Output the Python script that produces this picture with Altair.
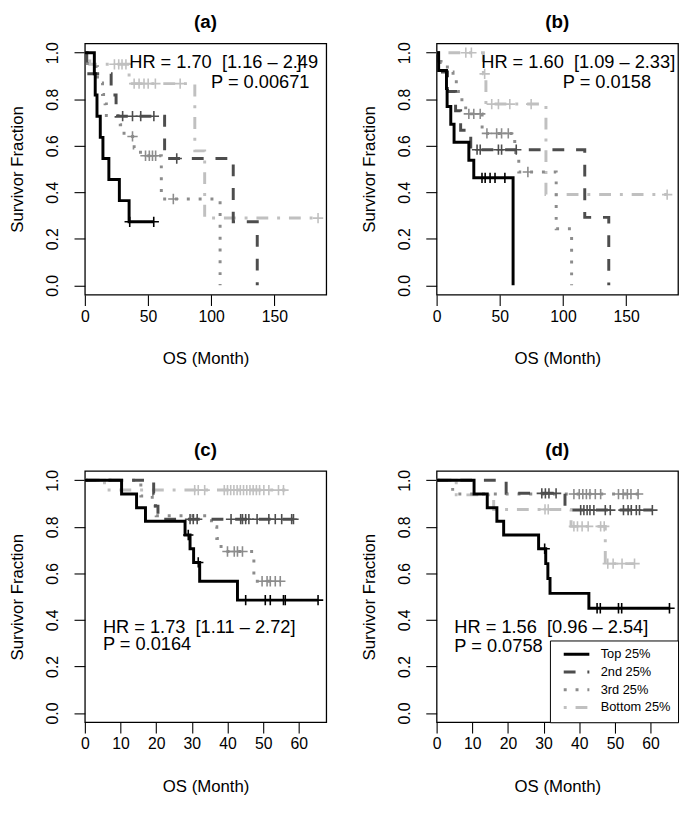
import altair as alt
import pandas as pd

FONT = "Liberation Sans"
GROUPS = ["Top 25%", "2nd 25%", "3rd 25%", "Bottom 25%"]
COLORS = ["#000000", "#4d4d4d", "#8c8c8c", "#c0c0c0"]
DASHES = [[1, 0], [12, 12], [3, 9], [3, 9, 12, 9]]
Y_TICKS = [0.0, 0.2, 0.4, 0.6, 0.8, 1.0]

# ---------------- panel (a) ----------------
A_TOP_T = [0, 7.5, 8.2, 9.6, 12.2, 14.3, 19, 27.3, 35, 54.5]
A_TOP_S = [1, 0.909, 0.818, 0.727, 0.636, 0.545, 0.455, 0.364, 0.273, 0.273]
A_TOP_C = [35.5, 54.5]
A_2ND_T = [0, 1.5, 20.8, 24.7, 63.1, 117.4, 136.4]
A_2ND_S = [1, 0.909, 0.818, 0.727, 0.545, 0.273, 0]
A_2ND_C = [29.9, 37.7, 44.2, 54.6, 72.7]
A_3RD_T = [0, 2, 10, 14, 16, 17, 28, 31, 39, 44, 60.5, 107]
A_3RD_S = [1, 0.94, 0.87, 0.82, 0.78, 0.73, 0.69, 0.64, 0.59, 0.557, 0.371, 0]
A_3RD_C = [37.7, 48, 51, 53.5, 56, 70]
A_BOT_T = [0, 3.9, 35, 87, 94.8, 184.5]
A_BOT_S = [1, 0.95, 0.867, 0.578, 0.289, 0.289]
A_BOT_C = [23.4, 26.8, 29.4, 32.5, 39, 42.9, 46.8, 50.1, 55.8, 75.4, 184.5]

# ---------------- panel (b) ----------------
B_TOP_T = [0, 1.6, 7.8, 8.3, 11.2, 13.8, 25.5, 29.4, 60.5]
B_TOP_S = [1, 0.923, 0.846, 0.769, 0.692, 0.615, 0.538, 0.462, 0]
B_TOP_C = [35.9, 38.4, 42.3, 46.2, 54]
B_2ND_T = [0, 1.5, 8.6, 15, 19, 27, 117.2, 136.2]
B_2ND_S = [1, 0.917, 0.833, 0.75, 0.667, 0.583, 0.292, 0]
B_2ND_C = [32, 34.5, 48.9, 51.4, 63]
B_3RD_T = [0, 3.5, 8.5, 13, 17, 20, 23, 36, 61.8, 62.6, 65, 94.6, 106.8]
B_3RD_S = [1, 0.958, 0.917, 0.875, 0.833, 0.79, 0.737, 0.653, 0.6, 0.545, 0.487, 0.243, 0]
B_3RD_C = [25.5, 29.4, 34.5, 39.8, 47.5, 51.4, 56.7, 72.2]
B_BOT_T = [0, 37, 39, 86.5, 182.4]
B_BOT_S = [1, 0.909, 0.779, 0.39, 0.39]
B_BOT_C = [23.1, 27.5, 38, 43.6, 48.9, 57.9, 74.8, 182.4]

# ---------------- panel (c) ----------------
C_TOP_T = [0, 10.3, 14.5, 17, 28.1, 29.5, 30.5, 32.2, 42.8, 65.4]
C_TOP_S = [1, 0.941, 0.882, 0.824, 0.765, 0.706, 0.647, 0.566, 0.485, 0.485]
C_TOP_C = [29, 31.8, 45.1, 50.6, 52, 55.7, 56.2, 65.4]
C_2ND_T = [0, 19.3, 19.8, 20.5, 58.5]
C_2ND_S = [1, 0.944, 0.889, 0.833, 0.833]
C_2ND_C = [29.5, 30.4, 31.5, 41, 43.7, 44.2, 45.1, 46, 48.3, 51.6, 53.4, 55.2, 58, 58.5]
C_3RD_T = [0, 15.7, 18.9, 20, 35.5, 37, 38.2, 47.4, 54.8]
C_3RD_S = [1, 0.933, 0.889, 0.848, 0.8, 0.75, 0.694, 0.566, 0.566]
C_3RD_C = [40, 41.9, 42.8, 44.2, 49.7, 51.1, 52, 53.4, 54.8]
C_BOT_T = [0, 5.5, 56.2]
C_BOT_S = [1, 0.958, 0.958]
C_BOT_C = [30.8, 31.8, 33.6, 39.1, 40, 40.9, 41.8, 42.7, 43.6, 44.5, 45.4, 46.3,
           47.2, 48.1, 49, 50.2, 51.6, 54.3, 55.7]

# ---------------- panel (d) ----------------
D_TOP_T = [0, 10.5, 14.2, 16.9, 18.8, 28.6, 30.6, 31.2, 31.8, 42.7, 65.5]
D_TOP_S = [1, 0.941, 0.882, 0.824, 0.765, 0.706, 0.642, 0.578, 0.514, 0.45, 0.45]
D_TOP_C = [30.3, 45, 45.9, 51, 51.9, 65.3]
D_2ND_T = [0, 19.5, 36, 60.5]
D_2ND_S = [1, 0.944, 0.872, 0.872]
D_2ND_C = [29.5, 30.5, 31.5, 33.5, 40.4, 41.3, 42.2, 43, 44.1, 47.3, 48.7, 52.4,
           53.7, 54.6, 56, 56.9, 60.5]
D_3RD_T = [0, 4.5, 57]
D_3RD_S = [1, 0.941, 0.941]
D_3RD_C = [38.5, 40, 41, 42, 43, 44.5, 46, 51, 52.3, 53.5, 54.5, 56.5]
D_BOT_T = [0, 5.5, 16, 37.7, 47.3, 55.5]
D_BOT_S = [1, 0.9375, 0.875, 0.802, 0.642, 0.642]
D_BOT_C = [30.4, 31.3, 38.5, 39.5, 40.8, 42.5, 46, 47, 48, 49.5, 52, 55.5]

# ---------------- annotations ----------------
PANEL_TITLES = ["(a)", "(b)", "(c)", "(d)"]
X_MAX = [191, 191, 67.7, 67.7]
X_TICKS_LONG = [0, 50, 100, 150]
X_TICKS_SHORT = [0, 10, 20, 30, 40, 50, 60]
HR_LABELS = ["HR = 1.70 \u00a0[1.16 \u2013 2.49", "HR = 1.60 \u00a0[1.09 \u2013 2.33]",
             "HR = 1.73 \u00a0[1.11 \u2013 2.72]", "HR = 1.56 \u00a0[0.96 \u2013 2.54]"]
P_LABELS = ["P = 0.00671", "P = 0.0158", "P = 0.0164", "P = 0.0758"]
HR_T = [35.1, 35.3, 5.06, 4.97]
HR_S = [0.96, 0.96, 0.371, 0.371]
P_T = [99.8, 99.8, 5.06, 4.97]
P_S = [0.875, 0.875, 0.296, 0.286]
BRACKET_T = 169.5
BRACKET_S = 0.96


def level_at(times, surv, t):
    lvl = surv[0]
    for ti, si in zip(times, surv):
        if ti <= t:
            lvl = si
    return lvl


def frames(curves):
    rows, crows = [], []
    for g, T, S, C in curves:
        for i, (t, s) in enumerate(zip(T, S)):
            rows.append({"group": g, "t": t, "s": s, "i": i})
        for c in C:
            crows.append({"group": g, "t": c, "s": level_at(T, S, c)})
    return pd.DataFrame(rows), pd.DataFrame(crows)


color_scale = alt.Scale(domain=GROUPS, range=COLORS)
dash_scale = alt.Scale(domain=GROUPS, range=DASHES)


def panel(idx, curves, xticks, legend):
    lines_df, cens_df = frames(curves)
    x = alt.X("t:Q", scale=alt.Scale(domain=[0, X_MAX[idx]], nice=False, zero=False),
              axis=alt.Axis(values=xticks, title="OS (Month)", labelPadding=3,
                            labelFlush=False, labelOverlap=False,
                            titleY=65, titleBaseline="middle"))
    y = alt.Y("s:Q", scale=alt.Scale(domain=[-0.04, 1.04], nice=False, zero=False),
              axis=alt.Axis(values=Y_TICKS, format=".1f", title="Survivor Fraction",
                            labelAngle=270, labelAlign="center", labelBaseline="alphabetic",
                            labelPadding=17, labelOverlap=False,
                            titleX=-68, titleY=127.5, titleAngle=270,
                            titleBaseline="middle", titleAlign="center"))
    if legend:
        leg = alt.Legend(orient="bottom-right", offset=0, title=None,
                         symbolType="M-2.6,0H2.6", symbolSize=100, symbolStrokeWidth=3,
                         symbolOffset=13, labelOffset=18, padding=7.5, rowPadding=4,
                         labelFontSize=13, labelFont=FONT, labelColor="black",
                         strokeColor="black", fillColor="white", labelLimit=200)
        color = alt.Color("group:N", scale=color_scale, legend=leg)
        dash = alt.StrokeDash("group:N", scale=dash_scale, legend=leg)
    else:
        color = alt.Color("group:N", scale=color_scale, legend=None)
        dash = alt.StrokeDash("group:N", scale=dash_scale, legend=None)

    lines = alt.Chart(lines_df).mark_line(interpolate="step-after", strokeWidth=3,
                                          strokeCap="butt").encode(
        x=x, y=y, color=color, strokeDash=dash, order="i:Q")
    marks = alt.Chart(cens_df).mark_point(shape="M-1,0H1M0,-1V1", size=110, filled=False,
                                          strokeWidth=1.6, opacity=1).encode(
        x=x, y=y, stroke=alt.Stroke("group:N", scale=color_scale, legend=None))
    ann_df = pd.DataFrame({"t": [HR_T[idx], P_T[idx]], "s": [HR_S[idx], P_S[idx]],
                           "label": [HR_LABELS[idx], P_LABELS[idx]]})
    ann = alt.Chart(ann_df).mark_text(align="left", baseline="middle", fontSize=18.5,
                                      font=FONT, color="black").encode(
        x=x, y=y, text="label:N")
    layers = [lines, marks, ann]
    if idx == 0:
        br_df = pd.DataFrame({"t": [BRACKET_T], "s": [BRACKET_S], "label": ["]"]})
        layers.append(alt.Chart(br_df).mark_text(align="center", baseline="middle",
                                                 fontSize=18.5, font=FONT,
                                                 color="black").encode(
            x=x, y=y, text="label:N"))
    return alt.layer(*layers).properties(
        width=245, height=255,
        title=alt.TitleParams(PANEL_TITLES[idx]))


pa = panel(0, [("Bottom 25%", A_BOT_T, A_BOT_S, A_BOT_C), ("3rd 25%", A_3RD_T, A_3RD_S, A_3RD_C),
               ("2nd 25%", A_2ND_T, A_2ND_S, A_2ND_C), ("Top 25%", A_TOP_T, A_TOP_S, A_TOP_C)],
           X_TICKS_LONG, False)
pb = panel(1, [("Bottom 25%", B_BOT_T, B_BOT_S, B_BOT_C), ("3rd 25%", B_3RD_T, B_3RD_S, B_3RD_C),
               ("2nd 25%", B_2ND_T, B_2ND_S, B_2ND_C), ("Top 25%", B_TOP_T, B_TOP_S, B_TOP_C)],
           X_TICKS_LONG, False)
pc = panel(2, [("Bottom 25%", C_BOT_T, C_BOT_S, C_BOT_C), ("3rd 25%", C_3RD_T, C_3RD_S, C_3RD_C),
               ("2nd 25%", C_2ND_T, C_2ND_S, C_2ND_C), ("Top 25%", C_TOP_T, C_TOP_S, C_TOP_C)],
           X_TICKS_SHORT, False)
pd_ = panel(3, [("Bottom 25%", D_BOT_T, D_BOT_S, D_BOT_C), ("3rd 25%", D_3RD_T, D_3RD_S, D_3RD_C),
                ("2nd 25%", D_2ND_T, D_2ND_S, D_2ND_C), ("Top 25%", D_TOP_T, D_TOP_S, D_TOP_C)],
            X_TICKS_SHORT, True)

chart = alt.concat(pa, pb, pc, pd_, columns=2, spacing={"row": 179, "column": 112},
                   bounds="flush").resolve_scale(
    color="independent", strokeDash="independent", stroke="independent"
).properties(padding={"top": -2, "left": 0, "right": 0, "bottom": 0}).configure_view(
    stroke="black", strokeWidth=1.3
).configure_axis(
    grid=False, domain=False, ticks=True, tickColor="black", tickWidth=1.1, tickSize=11,
    labelColor="black", titleColor="black", labelFont=FONT, titleFont=FONT,
    labelFontSize=16, titleFontSize=17, titleFontWeight="normal"
).configure_title(
    font=FONT, fontSize=19, fontWeight="bold", color="black", offset=10, anchor="middle"
)

chart.save("out.html", embed_options={"renderer": "svg", "actions": False})
